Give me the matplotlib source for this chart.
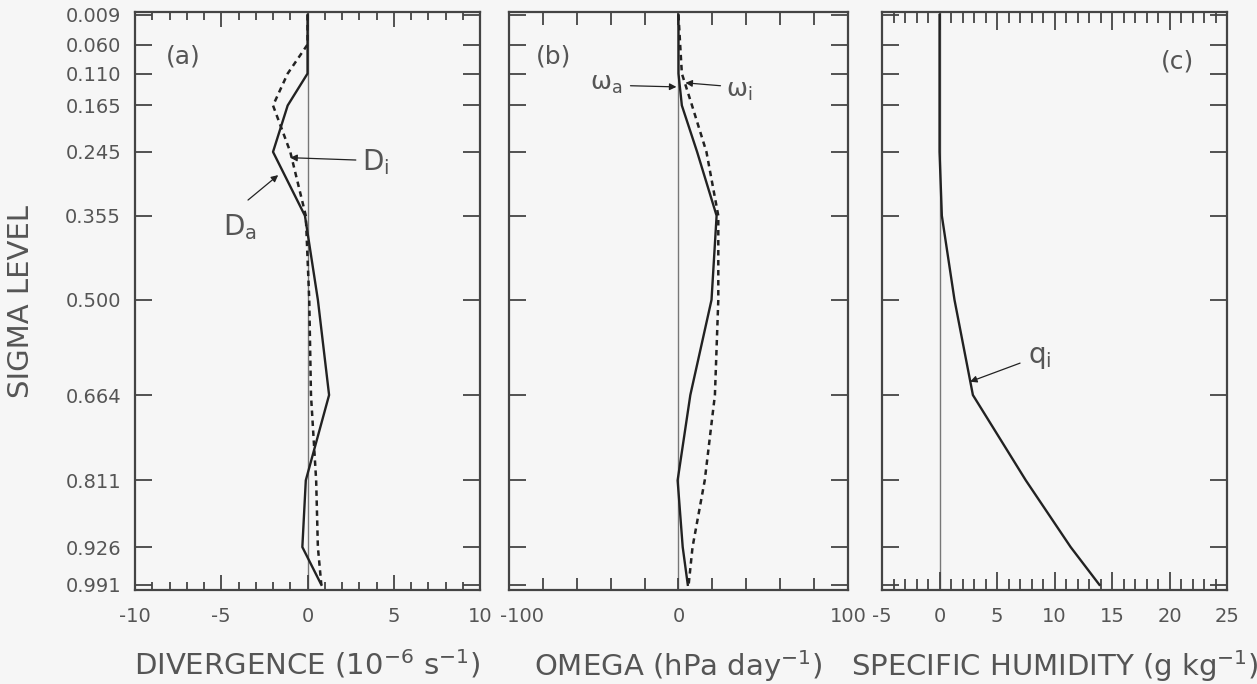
import matplotlib
matplotlib.use("Agg")
import matplotlib.pyplot as plt
from matplotlib.transforms import ScaledTranslation

# sigma levels of the model
sigma = [0.009, 0.060, 0.110, 0.165, 0.245, 0.355, 0.500, 0.664, 0.811, 0.926, 0.991]
sigma_labels = ["0.009", "0.060", "0.110", "0.165", "0.245", "0.355",
                "0.500", "0.664", "0.811", "0.926", "0.991"]

# (a) divergence, 10^-6 s^-1
div_a = [0, 0, 0, -1.15, -2.0, -0.15, 0.6, 1.25, -0.1, -0.3, 0.8]
div_i = [0, 0, -1.15, -2.0, -1.0, -0.1, 0.1, 0.2, 0.5, 0.6, 0.8]

# (b) omega, hPa/day
omega_a = [0, 0, 0, 2, 11, 22.5, 19.5, 7, -0.5, 2.5, 5.5]
omega_i = [0, 1, 2, 8, 16.5, 23.5, 23.5, 21.5, 15.5, 8.3, 6]
omega_ticks = [-100, -80, -60, -40, -20, 0, 20, 40, 60, 80, 100]
omega_ticklabels = ["-100", "", "", "", "", "0", "", "", "", "", "100"]

# (c) specific humidity, g/kg
q_i = [0, 0, 0, 0, 0, 0.2, 1.3, 2.9, 7.5, 11.4, 13.9]

plt.rcParams['font.family'] = ['DejaVu Sans']
plt.rcParams['mathtext.default'] = 'regular'
plt.rcParams['axes.unicode_minus'] = False

TXT = '#555555'
LINE = '#222222'
BG = '#f6f6f6'


def setup_axis(ax, xlim, major, minor, major_len, minor_len):
    ax.set_facecolor(BG)
    ax.set_xlim(xlim)
    ax.set_ylim(1.0, 0.004)
    ax.set_yticks(sigma)
    ax.set_xticks(major)
    ax.set_xticks(minor, minor=True)
    ax.tick_params(axis='x', which='major', direction='in', top=True, bottom=True,
                   length=major_len, width=1.3, color='#444444', pad=12,
                   labelsize=14, labelcolor=TXT)
    ax.tick_params(axis='x', which='minor', direction='in', top=True, bottom=True,
                   length=minor_len, width=1.3, color='#444444')
    ax.tick_params(axis='y', direction='in', left=True, right=True, length=12,
                   width=1.3, color='#444444', pad=10, labelsize=14, labelcolor=TXT)
    ax.axvline(0, color='#777777', lw=1.0, zorder=1)
    for s in ax.spines.values():
        s.set_color('#444444')
        s.set_linewidth(1.6)


def arrow(ax, head, tail):
    ax.annotate('', xy=head, xytext=tail,
                arrowprops=dict(arrowstyle='-|>', color=LINE, lw=0.9,
                                mutation_scale=10, shrinkA=0, shrinkB=0))


fig = plt.figure(figsize=(12.57, 6.84), dpi=100, facecolor=BG)
bottom, height = 0.1374, 0.8450
ax1 = fig.add_axes([0.1074, bottom, 0.2745, height])
ax2 = fig.add_axes([0.4049, bottom, 0.2697, height])
ax3 = fig.add_axes([0.7017, bottom, 0.2745, height])

# ----------------------------------------- (a) divergence
setup_axis(ax1, (-10, 10), [-10, -5, 0, 5, 10], list(range(-10, 11)), 11, 6)
ax1.set_yticklabels(sigma_labels)
ax1.plot(div_a, sigma, color=LINE, lw=1.7, zorder=3)
ax1.plot(div_i, sigma, color=LINE, lw=1.8, ls=(0, (2.2, 1.8)), zorder=3)
ax1.text(-7.2, 0.081, '(a)', fontsize=18, color=TXT, ha='center', va='center')
arrow(ax1, (-1.0, 0.255), (2.8, 0.259))
ax1.text(3.15, 0.262, '$D_i$', fontsize=20, color=TXT, ha='left', va='center')
arrow(ax1, (-1.7, 0.285), (-3.45, 0.328))
ax1.text(-4.9, 0.375, '$D_a$', fontsize=20, color=TXT, ha='left', va='center')
ax1.set_ylabel('SIGMA LEVEL', fontsize=21, color=TXT)
ax1.yaxis.set_label_coords(-0.29, 0.5)
ax1.set_xlabel('DIVERGENCE (10$^{-6}$ s$^{-1}$)', fontsize=21, color=TXT, labelpad=16)

# ----------------------------------------- (b) omega
setup_axis(ax2, (-100, 100), omega_ticks, [], 9, 0)
ax2.set_xticklabels(omega_ticklabels)
ax2.set_yticklabels([])
# the -100 label sits a bit right of its tick in the original, clear of the "10"
lab = ax2.get_xticklabels()[0]
lab.set_transform(lab.get_transform() + ScaledTranslation(0.13, 0, fig.dpi_scale_trans))
ax2.plot(omega_a, sigma, color=LINE, lw=1.7, zorder=3)
ax2.plot(omega_i, sigma, color=LINE, lw=1.8, ls=(0, (2.2, 1.8)), zorder=3)
ax2.text(-73.7, 0.081, '(b)', fontsize=18, color=TXT, ha='center', va='center')
arrow(ax2, (-1.2, 0.133), (-28.3, 0.131))
ax2.text(-52, 0.128, r'$\omega_a$', fontsize=18, color=TXT, ha='left', va='center')
arrow(ax2, (4.1, 0.126), (24.8, 0.131))
ax2.text(28.3, 0.140, r'$\omega_i$', fontsize=18, color=TXT, ha='left', va='center')
ax2.set_xlabel('OMEGA (hPa day$^{-1}$)', fontsize=21, color=TXT, labelpad=16)

# ----------------------------------------- (c) specific humidity
setup_axis(ax3, (-5, 25), [-5, 0, 5, 10, 15, 20, 25], list(range(-5, 26)), 13, 8)
ax3.set_yticklabels([])
ax3.plot(q_i, sigma, color=LINE, lw=1.7, zorder=3)
ax3.text(20.7, 0.09, '(c)', fontsize=18, color=TXT, ha='center', va='center')
arrow(ax3, (2.65, 0.641), (7.0, 0.609))
ax3.text(7.7, 0.598, '$q_i$', fontsize=20, color=TXT, ha='left', va='center')
ax3.set_xlabel('SPECIFIC HUMIDITY (g kg$^{-1}$)', fontsize=21, color=TXT, labelpad=16)

fig.savefig('out.png', dpi=100, facecolor=fig.get_facecolor())
